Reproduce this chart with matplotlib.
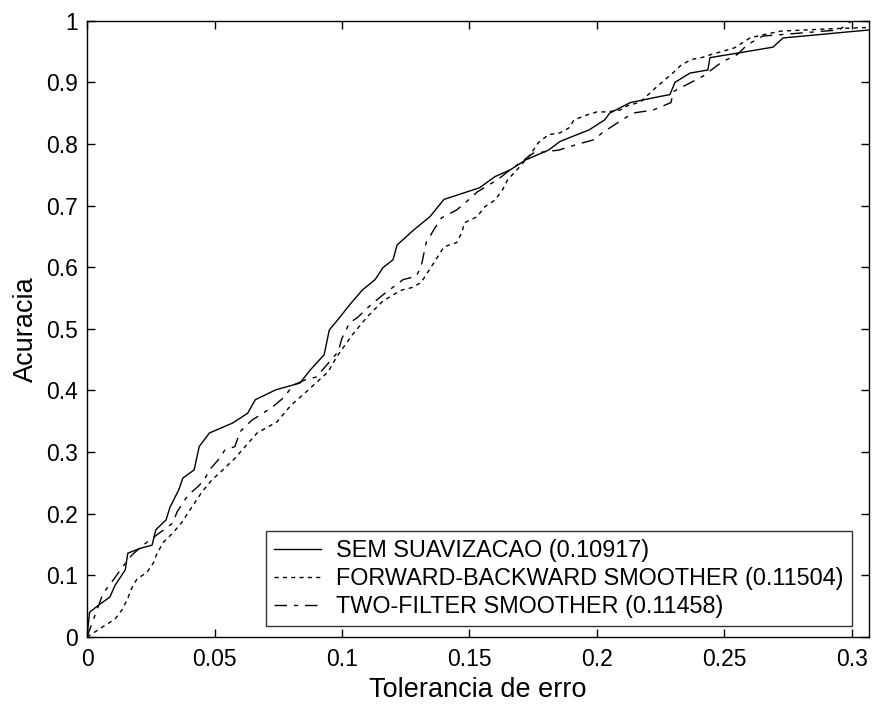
import numpy as np
import matplotlib.pyplot as plt

plt.rcParams['font.family'] = ['Liberation Sans', 'DejaVu Sans']

# SEM SUAVIZACAO
x_sem = [0, 0.001, 0.004, 0.009, 0.011, 0.015, 0.016, 0.021, 0.0255, 0.027, 0.031, 0.0325,
         0.036, 0.0376, 0.042, 0.044, 0.048, 0.057, 0.063, 0.066, 0.074, 0.0835, 0.0875,
         0.093, 0.095, 0.099, 0.103, 0.108, 0.113, 0.116, 0.12, 0.1216, 0.128, 0.1345,
         0.14, 0.154, 0.16, 0.166, 0.172, 0.181, 0.1855, 0.197, 0.203, 0.205, 0.213,
         0.2247, 0.2286, 0.2306, 0.2365, 0.2435, 0.2443, 0.256, 0.269, 0.273, 0.2835,
         0.299, 0.307]
y_sem = [0, 0.04, 0.05, 0.065, 0.084, 0.109, 0.136, 0.144, 0.149, 0.174, 0.19, 0.21,
         0.239, 0.258, 0.271, 0.309, 0.331, 0.347, 0.363, 0.385, 0.401, 0.412, 0.433,
         0.458, 0.498, 0.518, 0.539, 0.563, 0.58, 0.599, 0.612, 0.636, 0.66, 0.682,
         0.71, 0.729, 0.747, 0.758, 0.774, 0.79, 0.804, 0.823, 0.839, 0.85, 0.867,
         0.877, 0.88, 0.9, 0.915, 0.92, 0.94, 0.948, 0.957, 0.972, 0.976,
         0.982, 0.985]

# FORWARD-BACKWARD SMOOTHER
x_fb = [0, 0.006, 0.011, 0.0137, 0.0157, 0.0176, 0.0196, 0.0235, 0.026, 0.0275, 0.03,
        0.0337, 0.037, 0.041, 0.045, 0.049, 0.053, 0.058, 0.0667, 0.0745, 0.08, 0.086,
        0.0945, 0.098, 0.104, 0.11, 0.116, 0.12, 0.1235, 0.1275, 0.131, 0.136, 0.14,
        0.145, 0.147, 0.148, 0.153, 0.156, 0.16, 0.163, 0.165, 0.1686, 0.1737, 0.177,
        0.181, 0.1855, 0.189, 0.191, 0.196, 0.2, 0.204, 0.209, 0.212, 0.217, 0.2235,
        0.23, 0.233, 0.237, 0.241, 0.2455, 0.249, 0.254, 0.26, 0.265, 0.272, 0.282,
        0.2925, 0.307]
y_fb = [0, 0.016, 0.029, 0.044, 0.06, 0.08, 0.094, 0.105, 0.12, 0.136, 0.154,
        0.169, 0.185, 0.21, 0.235, 0.255, 0.27, 0.29, 0.331, 0.349, 0.376, 0.398,
        0.43, 0.455, 0.49, 0.52, 0.545, 0.555, 0.563, 0.567, 0.575, 0.607, 0.633,
        0.64, 0.656, 0.672, 0.682, 0.698, 0.709, 0.726, 0.742, 0.758, 0.782, 0.802,
        0.815, 0.818, 0.826, 0.839, 0.847, 0.852, 0.852, 0.855, 0.862, 0.868, 0.893,
        0.916, 0.928, 0.937, 0.94, 0.946, 0.95, 0.956, 0.972, 0.977, 0.983, 0.985,
        0.987, 0.989]

# TWO-FILTER SMOOTHER
x_tf = [0, 0.0063, 0.0102, 0.014, 0.0176, 0.022, 0.0275, 0.0337, 0.0353, 0.0396, 0.0435,
        0.046, 0.048, 0.052, 0.054, 0.058, 0.06, 0.0647, 0.069, 0.073, 0.077, 0.081,
        0.0855, 0.09, 0.0985, 0.1, 0.103, 0.106, 0.11, 0.116, 0.124, 0.129, 0.131,
        0.133, 0.1365, 0.139, 0.145, 0.151, 0.153, 0.161, 0.166, 0.175, 0.185, 0.192,
        0.199, 0.202, 0.214, 0.222, 0.229, 0.23, 0.2416, 0.249, 0.255, 0.259, 0.265,
        0.28, 0.295, 0.3, 0.307]
y_tf = [0, 0.071, 0.092, 0.114, 0.133, 0.149, 0.166, 0.185, 0.203, 0.23, 0.244,
        0.255, 0.271, 0.29, 0.303, 0.309, 0.333, 0.352, 0.363, 0.374, 0.388, 0.409,
        0.417, 0.422, 0.463, 0.485, 0.51, 0.518, 0.534, 0.555, 0.58, 0.585, 0.6,
        0.64, 0.664, 0.68, 0.693, 0.714, 0.722, 0.742, 0.758, 0.785, 0.79, 0.799,
        0.807, 0.818, 0.85, 0.855, 0.867, 0.885, 0.91, 0.933, 0.945, 0.961, 0.975,
        0.98, 0.985, 1.0, 1.0]

labels = ['SEM SUAVIZACAO (0.10917)',
          'FORWARD-BACKWARD SMOOTHER (0.11504)',
          'TWO-FILTER SMOOTHER (0.11458)']

fig = plt.figure(figsize=(8.72, 7.08), dpi=100)
ax = fig.add_axes([0.0998, 0.1003, 0.8968, 0.8705])

ax.plot(x_sem, y_sem, color='k', lw=1.0, ls='-', label=labels[0])
ax.plot(x_fb, y_fb, color='k', lw=1.0, ls=(0, (3, 3)), label=labels[1])
ax.plot(x_tf, y_tf, color='k', lw=1.0, ls=(0, (9, 5, 3, 5)), label=labels[2])

ax.set_xlim(0, 0.3067)
ax.set_ylim(0, 1)
ax.set_xticks(np.arange(0, 0.31, 0.05))
ax.set_xticklabels(['0', '0.05', '0.1', '0.15', '0.2', '0.25', '0.3'])
ax.set_yticks(np.arange(0, 1.01, 0.1))
ax.set_yticklabels(['0', '0.1', '0.2', '0.3', '0.4', '0.5', '0.6', '0.7', '0.8', '0.9', '1'])
ax.tick_params(direction='in', length=6, width=1, top=True, right=True,
               labelsize=16.5, colors='k')
ax.tick_params(axis='x', pad=8)
ax.tick_params(axis='y', pad=6.5)
for s in ax.spines.values():
    s.set_linewidth(1.0)

ax.set_xlabel('Tolerancia de erro', fontsize=19.5, labelpad=4)
ax.set_ylabel('Acuracia', fontsize=19.5, labelpad=5)

leg = ax.legend(loc='lower center', bbox_to_anchor=(0.6036, 0.0179), fontsize=16.8,
                frameon=True, fancybox=False, edgecolor='k', handlelength=2.0,
                borderaxespad=0, labelspacing=0.2, handletextpad=0.65, borderpad=0.35)
leg.get_frame().set_linewidth(1.0)

fig.savefig('out.png', dpi=100)
